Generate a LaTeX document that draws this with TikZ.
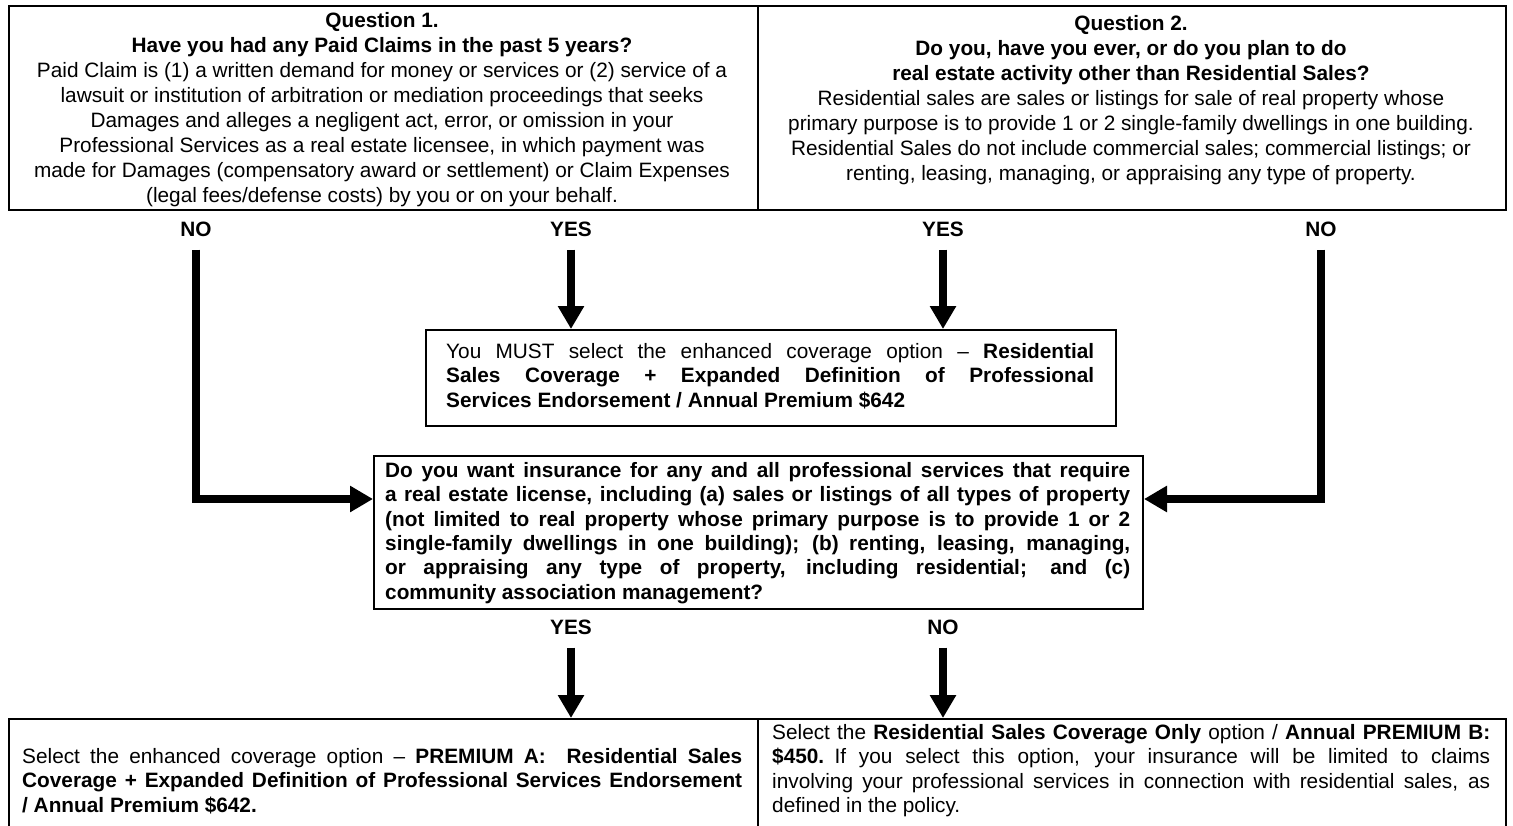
\documentclass[tikz,border=0pt]{standalone}
\usepackage{fontspec}
\setmainfont{Liberation Sans}
\usetikzlibrary{arrows.meta}
\newcommand\jl[2]{\makebox[#1][s]{#2}}
\begin{document}
\begin{tikzpicture}[x=1pt,y=-1pt,
  box/.style={draw,line width=2pt,anchor=north west,inner sep=0pt},
  txt/.style={inner sep=0pt,font=\fontsize{20.8}{24.4}\selectfont},
  toptxt/.style={inner sep=0pt,font=\fontsize{20.8}{25}\selectfont},
  lab/.style={inner sep=0pt,font=\fontsize{20.8}{24}\selectfont\bfseries},
  arr/.style={line width=7.5pt,-{Triangle[width=25pt,length=23pt]}},
  ]
\useasboundingbox (0,0) rectangle (1513,825);
\begin{scope}
\clip (0,0) rectangle (1513,825);
% boxes
\node[box,minimum width=749pt,minimum height=204pt] (q1) at (8,5) {};
\node[box,minimum width=748pt,minimum height=204pt] (q2) at (757,5) {};
\node[box,minimum width=690pt,minimum height=96pt] (must) at (425,329) {};
\node[box,minimum width=769pt,minimum height=153pt] (mq) at (373,455) {};
\node[box,minimum width=749pt,minimum height=120pt] (pa) at (8,718) {};
\node[box,minimum width=748pt,minimum height=120pt] (pb) at (757,718) {};
\end{scope}
% texts
\node[toptxt,align=center,anchor=north] (q1t) at (382,12) {\textbf{Question 1.}\\
\textbf{Have you had any Paid Claims in the past 5 years?}\\
Paid Claim is (1) a written demand for money or services or (2) service of a\\
lawsuit or institution of arbitration or mediation proceedings that seeks\\
Damages and alleges a negligent act, error, or omission in your\\
Professional Services as a real estate licensee, in which payment was\\
made for Damages (compensatory award or settlement) or Claim Expenses\\
(legal fees/defense costs) by you or on your behalf.};
\node[toptxt,align=center,anchor=north] (q2t) at (1131,15) {\textbf{Question 2.}\\
\textbf{Do you, have you ever, or do you plan to do}\\
\textbf{real estate activity other than Residential Sales?}\\
Residential sales are sales or listings for sale of real property whose\\
primary purpose is to provide 1 or 2 single-family dwellings in one building.\\
Residential Sales do not include commercial sales; commercial listings; or\\
renting, leasing, managing, or appraising any type of property.};
\node[txt,align=left,anchor=north west] (mustt) at (446,343) {\jl{648pt}{You MUST select the enhanced coverage option -- \textbf{Residential}}\\
\jl{648pt}{\textbf{Sales Coverage + Expanded Definition of Professional}}\\
\textbf{Services Endorsement / Annual Premium \$642}};
\node[txt,align=left,anchor=north west,font=\bfseries\fontsize{20.8}{24.4}\selectfont] (mqt) at (385,462) {\jl{745pt}{Do you want insurance for any and all professional services that require}\\
\jl{745pt}{a real estate license, including (a) sales or listings of all types of property}\\
\jl{745pt}{(not limited to real property whose primary purpose is to provide 1 or 2}\\
\jl{745pt}{single-family dwellings in one building); (b) renting, leasing, managing,}\\
\jl{745pt}{or appraising any type of property, including residential; and (c)}\\
community association management?};
\node[txt,align=left,anchor=north west] (pat) at (22,748) {\jl{720pt}{Select the enhanced coverage option -- \textbf{PREMIUM A:\quad Residential Sales}}\\
\jl{720pt}{\textbf{Coverage + Expanded Definition of Professional Services Endorsement}}\\
\textbf{/ Annual Premium \$642.}};
\node[txt,align=left,anchor=north west] (pbt) at (772,724) {\jl{718pt}{Select the \textbf{Residential Sales Coverage Only} option / \textbf{Annual PREMIUM B:}}\\
\jl{718pt}{\textbf{\$450.}\enspace If you select this option, your insurance will be limited to claims}\\
\jl{718pt}{involving your professional services in connection with residential sales, as}\\
defined in the policy.};
% labels
\node[lab] (no1) at (196,229) {NO};
\node[lab] (yes1) at (571,229) {YES};
\node[lab] (yes2) at (943,229) {YES};
\node[lab] (no2) at (1321,229) {NO};
\node[lab] (yes3) at (571,627) {YES};
\node[lab] (no3) at (943,627) {NO};
% connectors
\draw[arr] ([yshift=-13pt]no1.south) |- ([yshift=-44pt]mq.north west);
\draw[arr] ([yshift=-13pt]no2.south) |- ([yshift=-44pt]mq.north east);
\draw[arr] ([yshift=-13pt]yes1.south) -- (yes1.south |- must.north);
\draw[arr] ([yshift=-13pt]yes2.south) -- (yes2.south |- must.north);
\draw[arr] ([yshift=-13pt]yes3.south) -- (yes3.south |- pa.north);
\draw[arr] ([yshift=-13pt]no3.south) -- (no3.south |- pb.north);
\end{tikzpicture}
\end{document}
